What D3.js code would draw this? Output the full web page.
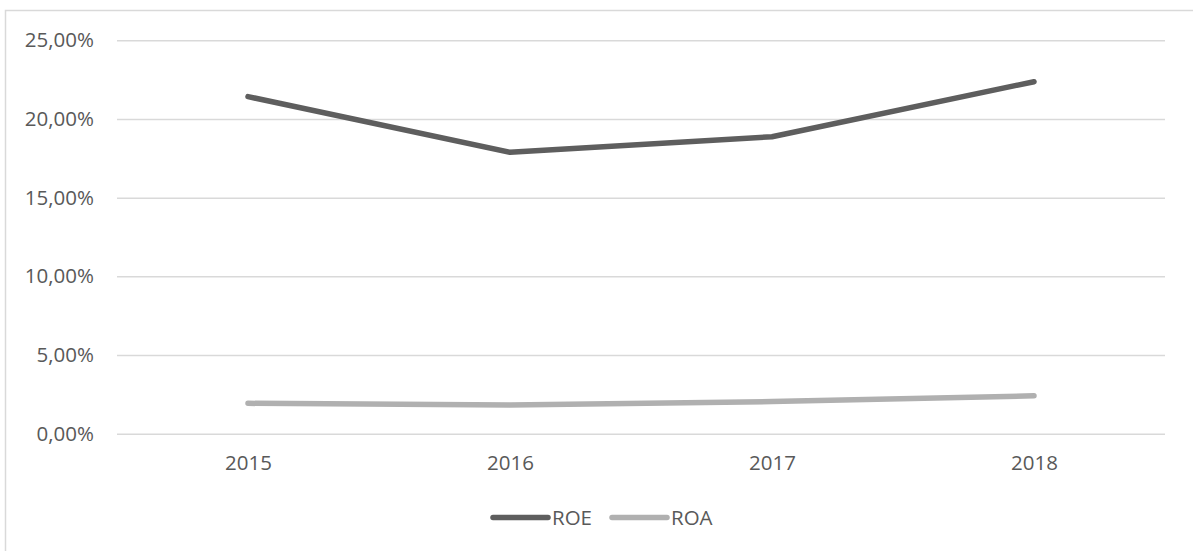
<!DOCTYPE html>
<html>
<head>
<meta charset="utf-8">
<script src="https://cdn.jsdelivr.net/npm/d3@7"></script>
<style>
  body { margin: 0; background: #fff; }
  svg { display: block; font-family: "Open Sans", sans-serif; }
</style>
</head>
<body>
<svg width="1193" height="551"></svg>
<script>
// data
var years = ["2015", "2016", "2017", "2018"];
var roe = [0.2142, 0.1788, 0.1887, 0.2237];
var roa = [0.0193, 0.0182, 0.0204, 0.0241];
var yTicks = [0, 0.05, 0.10, 0.15, 0.20, 0.25];

var series = [
	{ name: "ROE", values: roe, color: "#5e5e5e" },
	{ name: "ROA", values: roa, color: "#b0b0b0" }
];

var svg = d3.select("svg");
var textColor = "#595959";
var gridColor = "#d9d9d9";

// comma decimal, like the original
var locale = d3.formatLocale({ decimal: ",", thousands: ".", grouping: [3], currency: ["", ""] });
var fmt = locale.format(".2%");

// outer frame (only left/top visible)
svg.append("rect")
	.attr("x", 5.5)
	.attr("y", 10.5)
	.attr("width", 1300)
	.attr("height", 600)
	.attr("fill", "none")
	.attr("stroke", gridColor)
	.attr("stroke-width", 1.5);

var x = d3.scalePoint()
	.domain(years)
	.range([117, 1165])
	.padding(0.5);

var y = d3.scaleLinear()
	.domain([0, 0.25])
	.range([433.7, 40.3]);

// y axis with gridlines
var yAxis = d3.axisLeft(y)
	.tickValues(yTicks)
	.tickSize(-(1165 - 117))
	.tickPadding(23)
	.tickFormat(fmt);

var gy = svg.append("g")
	.attr("transform", "translate(117,0)")
	.call(yAxis);

gy.select(".domain").remove();
gy.selectAll(".tick line")
	.attr("stroke", gridColor)
	.attr("stroke-width", 1.5);
gy.selectAll(".tick text")
	.attr("fill", textColor)
	.attr("font-size", 20.5)
	.attr("font-family", "Open Sans");

// x axis labels
var xAxis = d3.axisBottom(x)
	.tickSize(0)
	.tickPadding(22);

var gx = svg.append("g")
	.attr("transform", "translate(0,433.7)")
	.call(xAxis);

gx.select(".domain").remove();
gx.selectAll(".tick text")
	.attr("fill", textColor)
	.attr("font-size", 20.5)
	.attr("font-family", "Open Sans");

// lines
var line = d3.line()
	.x(function(d, i) { return x(years[i]); })
	.y(function(d) { return y(d); });

svg.selectAll(".series")
	.data(series)
	.enter().append("path")
	.attr("class", "series")
	.attr("d", function(d) { return line(d.values); })
	.attr("fill", "none")
	.attr("stroke", function(d) { return d.color; })
	.attr("stroke-width", 5.5)
	.attr("stroke-linecap", "round")
	.attr("stroke-linejoin", "round");

// legend
var legendX = [493, 612];
var legendY = 517.5;

var lg = svg.selectAll(".legend")
	.data(series)
	.enter().append("g")
	.attr("class", "legend")
	.attr("transform", function(d, i) { return "translate(" + legendX[i] + "," + legendY + ")"; });

lg.append("line")
	.attr("x1", 0)
	.attr("x2", 55)
	.attr("stroke", function(d) { return d.color; })
	.attr("stroke-width", 5.5)
	.attr("stroke-linecap", "round");

lg.append("text")
	.attr("x", 59)
	.attr("dy", "0.35em")
	.attr("fill", textColor)
	.attr("font-size", 20.5)
	.text(function(d) { return d.name; });
</script>
</body>
</html>
